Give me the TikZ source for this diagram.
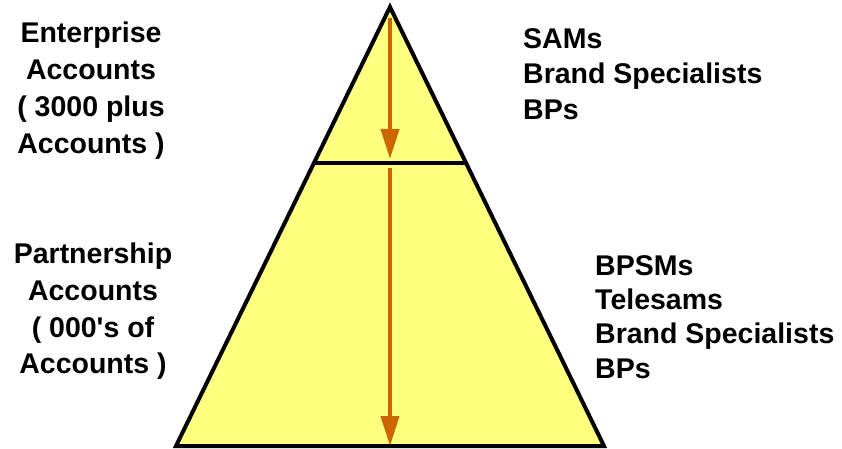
\documentclass[tikz,border=0pt]{standalone}
\usepackage{fontspec}
\setmainfont{Liberation Sans}
\usetikzlibrary{arrows.meta,calc}
\definecolor{pyellow}{HTML}{FFFF80}
\definecolor{parrow}{HTML}{CC6600}
\begin{document}
\begin{tikzpicture}[x=1pt,y=-1pt,
  lbl/.style={font=\bfseries\fontsize{28.5}{#1}\selectfont, inner sep=0pt},
  lbl/.default=36,
  downarrow/.style={draw=parrow, line width=4pt, -{Triangle[length=30pt,width=18pt]}}]
\useasboundingbox (0,0) rectangle (842,449);
\coordinate (apex) at (390,7);
\coordinate (bl) at (176,446);
\coordinate (br) at (604,446);
\coordinate (ml) at ($(apex)!0.3554!(bl)$);
\coordinate (mr) at ($(apex)!0.3554!(br)$);
\filldraw[fill=pyellow, draw=black, line width=4pt, line join=miter] (apex) -- (br) -- (bl) -- cycle;
\draw[line width=4pt] (ml) -- (mr);
\coordinate (a1s) at (390,18);
\coordinate (a1e) at (390,159);
\coordinate (a2s) at (390,168);
\coordinate (a2e) at (390,446);
\draw[downarrow] (a1s) -- (a1e);
\draw[downarrow] (a2s) -- (a2e);
\node[lbl=37, anchor=north, align=center] (ent) at (91,22) {Enterprise\\Accounts\\( 3000 plus\\Accounts )};
\node[lbl=36.7, anchor=north, align=center] (par) at (93,243) {Partnership\\Accounts\\( 000\textquotesingle s of\\Accounts )};
\node[lbl=35.5, anchor=north west, align=left] (top) at (523,28) {SAMs\\Brand Specialists\\BPs};
\node[lbl=34.3, anchor=north west, align=left] (bot) at (595,255) {BPSMs\\Telesams\\Brand Specialists\\BPs};
\end{tikzpicture}
\end{document}
